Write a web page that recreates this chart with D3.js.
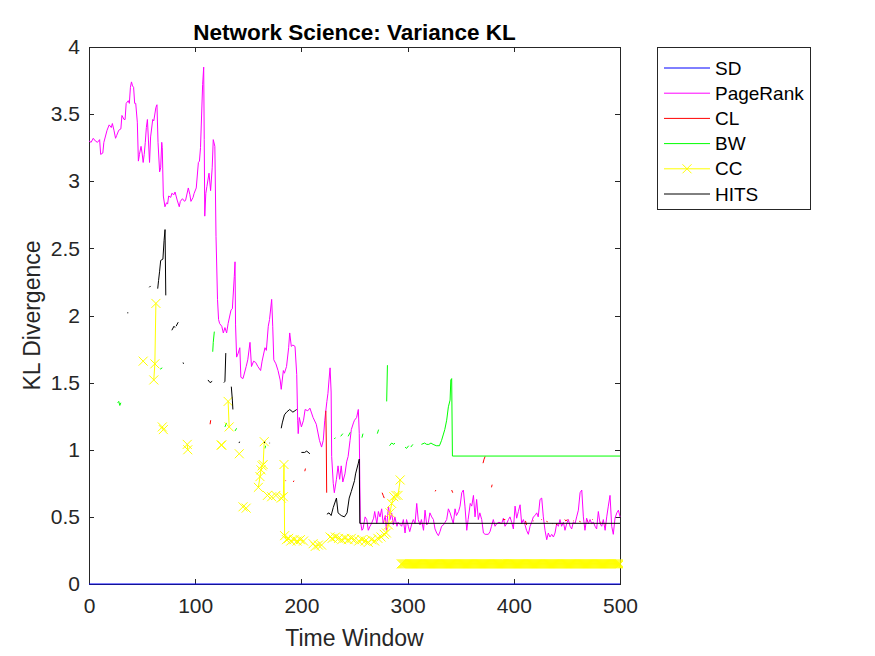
<!DOCTYPE html>
<html>
<head>
<meta charset="utf-8">
<script src="https://cdn.jsdelivr.net/npm/d3@7"></script>
<style>
  body { margin: 0; background: #fff; }
  svg { display: block; font-family: "Liberation Sans", Arial, sans-serif; }
</style>
</head>
<body>
<script>
// size of the figure and of the axes box
var w = 875, h = 656;
var plotLeft = 89, plotRight = 620, plotTop = 47, plotBottom = 584;

// ticks
var xTicks = [0, 100, 200, 300, 400, 500];
var yTicks = [0, 0.5, 1, 1.5, 2, 2.5, 3, 3.5, 4];
var yTickLabels = ["0", "0.5", "1", "1.5", "2", "2.5", "3", "3.5", "4"];

// legend
var seriesNames = ["SD", "PageRank", "CL", "BW", "CC", "HITS"];
var seriesColors = ["#0000ff", "#ff00ff", "#ff0000", "#00ff00", "#ffff00", "#000000"];

// data: [time window, KL]; null = gap (NaN in the original)
var sd = [[0, 0], [500, 0]];

var pageRank = [[0,3.30],[2,3.29],[4,3.32],[6,3.30],[8,3.29],[10,3.31],[11,3.20],[13,3.21],[14,3.29],[17,3.38],[19,3.42],[21,3.40],[22,3.43],[23.5,3.38],[25,3.32],[26,3.34],[28,3.38],[30,3.39],[31,3.49],[33,3.46],[34,3.46],[35,3.58],[37,3.60],[38,3.58],[39,3.70],[40,3.74],[41,3.71],[42,3.70],[43,3.58],[44,3.58],[45.5,3.44],[46.5,3.15],[47.5,3.20],[49,3.26],[50,3.21],[51,3.14],[52,3.20],[53,3.29],[54,3.40],[55,3.46],[56,3.30],[57,3.14],[58,3.33],[60,3.46],[61,3.45],[63,3.55],[64,3.57],[65,3.29],[66.5,3.07],[67.5,3.10],[68.5,3.29],[69,3.25],[70,2.89],[71.5,2.81],[73,2.84],[74,2.83],[75,2.89],[77,2.88],[78,2.91],[80,2.90],[81,2.92],[83,2.86],[85,2.81],[86,2.85],[88,2.87],[90,2.85],[91,2.86],[93.5,2.95],[95,2.90],[96,2.85],[98,2.88],[99,2.91],[101,2.95],[103,3.14],[104,3.15],[105,3.25],[107,3.72],[108,3.85],[108.5,3.31],[109,2.74],[110,2.91],[111,2.96],[113,3.06],[114.5,2.93],[116,3.10],[117,3.31],[118.5,3.26],[119.6,2.59],[121,2.12],[122,1.97],[123,1.94],[125,1.92],[126.5,1.87],[128,1.91],[129.6,1.87],[131,1.94],[133.7,2.04],[135,2.05],[136.8,2.29],[137.5,2.40],[138,1.93],[139,1.69],[140.5,1.72],[142,1.76],[143,1.54],[145,1.53],[148,1.62],[149.5,1.67],[151.6,1.80],[153,1.62],[155,1.66],[157,1.65],[159,1.62],[161.6,1.59],[163,1.66],[165.7,1.76],[167,1.74],[168.8,1.92],[170,1.97],[172,2.12],[173,1.92],[174,1.67],[176,1.64],[178,1.59],[180,1.52],[181,1.45],[183,1.59],[184,1.57],[186,1.62],[188,1.76],[189,1.87],[190.5,1.77],[192,1.78],[194,1.77],[195.6,1.56],[196.5,1.22],[197,1.12],[198,1.24],[200,1.17],[202,1.22],[203.5,1.30],[206,1.29],[208,1.31],[211,1.24],[214,1.19],[217,1.07],[219,1.02],[220.6,1.07],[222,1.22],[224,1.36],[225,1.42],[226,1.52],[227,1.61],[228,1.43],[228.5,0.95],[230,0.75],[231,0.68],[233,0.78],[234.5,0.88],[236,0.78],[237.5,0.88],[239,0.76],[241,0.82],[242.6,0.91],[244,0.95],[245.8,1.07],[247,1.15],[249,1.20],[250,1.22],[252,1.24],[253.6,1.30],[254.5,1.12],[255,0.78],[255.5,0.45],
  [256,0.45],[257,0.40],[258,0.41],[260,0.50],[261.5,0.48],[263,0.40],[264.6,0.43],[266,0.45],[268,0.49],[269,0.54],[271,0.45],[272.5,0.54],[274,0.50],[275.6,0.56],[277,0.45],[279,0.51],[280,0.40],[282,0.58],[283.5,0.48],[285,0.53],[286.6,0.44],[288,0.50],[290,0.43],[291,0.46],[294.4,0.43],[296,0.48],[297.6,0.38],[299,0.48],[300.7,0.43],[302,0.39],[304,0.45],[305.4,0.48],[307,0.45],[308.6,0.60],[310,0.48],[311.7,0.44],[313,0.48],[315,0.40],[316.4,0.55],[318,0.44],[319.6,0.46],[321,0.53],[322.7,0.50],[324.3,0.48],[325.8,0.41],[327.4,0.38],[329,0.36],[330.5,0.39],[332,0.43],[333.7,0.44],[335.3,0.46],[336.8,0.48],[338.4,0.56],[340,0.53],[341.5,0.49],[343,0.45],[344.7,0.56],[346,0.51],[348,0.54],[349.4,0.58],[351,0.68],[352.5,0.70],[354,0.58],[355.7,0.40],[357,0.48],[359,0.60],[360.4,0.58],[362,0.66],[363.5,0.50],[365,0.63],[366.6,0.48],[368,0.53],[369.8,0.48],[371.4,0.38],[373,0.37],[376,0.37],[377.6,0.39],[379,0.43],[380.7,0.48],[382.3,0.43],[384,0.45],[386,0.46],[388.6,0.45],[390.2,0.49],[391.7,0.43],[393.3,0.45],[395,0.48],[396.4,0.50],[398,0.46],[399.6,0.41],[401.2,0.58],[402.7,0.49],[404.3,0.54],[405.9,0.59],[407.4,0.45],[409,0.48],[410.6,0.44],[412,0.40],[413.7,0.37],[415.3,0.43],[416.8,0.46],[418.4,0.50],[420,0.51],[421.6,0.53],[423,0.50],[424.7,0.63],[426.3,0.64],[427.8,0.50],[429.4,0.40],[431,0.33],[432.5,0.38],[434,0.35],[435.7,0.37],[437.3,0.35],[438.8,0.38],[440.4,0.45],[442,0.43],[443.5,0.48],[445,0.43],[446.7,0.46],[448.2,0.40],[449.8,0.45],[451.4,0.48],[453,0.43],[454.5,0.41],[456,0.46],[457.7,0.45],[459.2,0.50],[460.8,0.55],[462.4,0.68],[464,0.70],[465.5,0.50],[467,0.40],[468.6,0.49],[470.2,0.45],[471.8,0.48],[473.3,0.45],[475,0.46],[476.5,0.43],[478,0.41],[479.6,0.54],[481.2,0.45],[482.8,0.43],[484.3,0.48],[486,0.40],[487.5,0.50],[489,0.58],[490.6,0.66],[492.2,0.43],[493.7,0.37],[495.3,0.49],[497,0.53],[498.5,0.55],[500,0.50]];

var cl = [[114,1.19],[114.6,1.22],null,[185,0.77],[185.6,0.77],null,[192.4,0.76],[193,0.77],null,[203.2,0.84],[203.8,0.86],null,
  [223,1.29],[223.4,1.08],[223.8,0.68],null,[276,0.68],[277,0.66],[278,0.64],null,[326,0.69],[326.6,0.70],null,[341.5,0.70],[342.5,0.68],null,
  [371,0.90],[372,0.93],[373,0.95],null,[379,0.72],[379.6,0.74],null,[390,0.48],[392,0.48],null,[411,0.47],[412,0.44],null,[418,0.47],[418.6,0.47],null,
  [426,0.48],[426.6,0.48],null,[431,0.47],[431.6,0.46],null,[436,0.45],[436.5,0.45],null,[440,0.44],[440.6,0.45],null,[448,0.48],[449,0.47],[450.5,0.48],null,
  [456,0.47],[456.6,0.47],null,[462,0.47],[462.6,0.46],null,[469,0.47],[469.6,0.47],null,[474,0.48],[474.6,0.48],null,[481.5,0.46],[482.2,0.46],null,[486,0.44],[486.6,0.44]];

var bw = [[27,1.35],[28,1.36],[29,1.33],[30,1.35],null,[67,1.60],[69,1.61],null,[116.5,1.73],[117,1.80],[118,1.88],null,
  [128,1.17],[129.6,1.20],null,[137.5,1.14],[139,1.16],null,[165.7,1.01],[166.3,1.03],null,[231,1.08],[232,1.09],null,
  [237,1.10],[239,1.12],null,[244,1.10],[246,1.13],null,[257,1.09],[258,1.12],null,[271.5,1.12],[272.7,1.15],null,
  [280.3,1.36],[281,1.63],null,[283,1.03],[285,1.05],[287,1.04],[288,1.05],null,[297.6,1.02],[299,1.01],[301,1.03],null,
  [303,1.02],[305,1.04],null,[313,1.04],[316,1.05],[318,1.04],[320,1.04],[322,1.05],[324,1.04],[327,1.03],[330,1.03],
  [332,1.07],[333.5,1.11],[335,1.15],[336.8,1.22],[338.4,1.32],[340,1.37],[340.7,1.52],[341.5,1.53],[342.2,0.953],[500,0.953]];

var cc = [[51,1.66],null,[61,1.52],[62,1.64],[63,2.09],null,[69,1.17],[70,1.15],null,[92.5,1.04],[93,1.00],null,
  [124.5,1.035],[125,1.035],null,[131,1.36],[132,1.17],null,[141.5,0.97],null,[145,0.575],null,[148,0.565],null,
  [159.5,0.72],[161,0.80],[162,0.85],[163,0.88],[164,0.89],[165,1.06],null,[168,0.66],null,[172,0.65],null,[176,0.66],null,
  [181,0.64],[183,0.65],[183.6,0.89],[184.2,0.36],[186,0.33],[188,0.34],[190,0.32],[193,0.33],[196,0.32],[199,0.33],[202,0.32],null,
  [211,0.30],[213,0.28],[216,0.29],[219,0.29],null,
  [227,0.35],[229,0.34],[232,0.35],[235,0.34],[238,0.33],[241,0.34],[244,0.33],[247,0.34],[250,0.33],null,
  [254,0.32],[257,0.33],[260,0.32],[263,0.31],[266,0.33],[269,0.32],[272,0.34],[275,0.35],[278,0.37],[280,0.38],[282,0.44],
  [283.5,0.53],[285,0.60],[287,0.65],[289,0.66],[291,0.66],[293,0.775]];
// from window 294 to 500 CC stays flat, one marker per window
var ccFlatRange = [294, 500];
var ccFlatValue = 0.15;

var hits = [[36,2.02],[37,2.02],null,[56.8,2.21],[58,2.22],null,[64.7,2.20],[65.5,2.26],[66.5,2.33],[67.5,2.41],[69.6,2.42],[70.7,2.56],[71.6,2.64],[72.3,2.15],null,
  [78,1.89],[80,1.92],[81,1.91],null,[82,1.92],[84,1.95],null,[88.6,1.65],[89,1.64],null,[112,1.52],[114,1.50],[116,1.51],null,
  [127,1.50],[128,1.51],[128.8,1.72],null,[134,1.47],[135,1.37],[135.5,1.30],null,[141.3,1.05],[141.8,1.06],null,
  [165,1.05],[165.6,1.06],null,[170,1.05],[170.5,1.05],null,[181,1.16],[182,1.20],[184,1.26],[186,1.28],[189,1.30],[192,1.28],[195.6,1.30],null,
  [200,0.98],[203,0.98],[205,0.99],[208,0.97],null,
  [224,0.52],[226,0.53],[228,0.51],[230,0.57],[233,0.64],[234.5,0.53],[237.5,0.51],[240.5,0.50],[243,0.53],[245,0.64],[247,0.69],
  [250,0.77],[251,0.82],[253.6,0.90],[254.5,0.93],[255,0.452],[500,0.452]];

var svg = d3.select("body").append("svg")
    .attr("width", w)
    .attr("height", h);

svg.append("rect").attr("width", w).attr("height", h).attr("fill", "#fff");

var x = d3.scaleLinear().domain([0, 500]).range([plotLeft, plotRight]);
var y = d3.scaleLinear().domain([0, 4]).range([plotBottom, plotTop]);

var axisColor = "#262626";

// axes (drawn under the data, like matlab)
var gx = svg.append("g")
    .attr("transform", "translate(0," + plotBottom + ")")
    .call(d3.axisBottom(x).tickValues(xTicks).tickSizeInner(-5).tickSizeOuter(0).tickPadding(14));
var gy = svg.append("g")
    .attr("transform", "translate(" + plotLeft + ",0)")
    .call(d3.axisLeft(y).tickValues(yTicks).tickFormat(function(d, i) { return yTickLabels[i]; })
      .tickSizeInner(-5).tickSizeOuter(0).tickPadding(9));
var gxTop = svg.append("g")
    .attr("transform", "translate(0," + plotTop + ")")
    .call(d3.axisTop(x).tickValues(xTicks).tickSizeInner(-5).tickSizeOuter(0).tickFormat(""));
var gyRight = svg.append("g")
    .attr("transform", "translate(" + plotRight + ",0)")
    .call(d3.axisRight(y).tickValues(yTicks).tickSizeInner(-5).tickSizeOuter(0).tickFormat(""));

[gx, gy, gxTop, gyRight].forEach(function(g) {
  g.attr("shape-rendering", "crispEdges");
  g.selectAll("path, line").attr("stroke", axisColor);
  g.selectAll("text")
    .attr("fill", axisColor)
    .style("font-size", "21px")
    .style("font-family", "'Liberation Sans', Arial, sans-serif");
});

// data
svg.append("clipPath").attr("id", "clip")
  .append("rect")
    .attr("x", plotLeft).attr("y", plotTop - 5)
    .attr("width", plotRight - plotLeft + 3).attr("height", plotBottom - plotTop + 10);

var plot = svg.append("g").attr("clip-path", "url(#clip)");

var line = d3.line()
    .defined(function(d) { return d !== null; })
    .x(function(d) { return x(d[0]); })
    .y(function(d) { return y(d[1]); });

var allSeries = [sd, pageRank, cl, bw, cc, hits];
allSeries.forEach(function(data, i) {
  plot.append("path")
    .datum(data)
    .attr("d", line)
    .attr("fill", "none")
    .attr("stroke", seriesColors[i])
    .attr("stroke-width", 1)
    .attr("stroke-linejoin", "round");
  if (seriesNames[i] == "CC") {
    // line across the flat part
    plot.append("path")
      .datum([[ccFlatRange[0], ccFlatValue], [ccFlatRange[1], ccFlatValue]])
      .attr("d", line)
      .attr("fill", "none")
      .attr("stroke", seriesColors[i]);
    var marks = data.filter(function(d) { return d !== null; })
      .concat(d3.range(ccFlatRange[0], ccFlatRange[1] + 1).map(function(t) { return [t, ccFlatValue]; }));
    plot.selectAll(".ccmark")
      .data(marks)
      .enter()
      .append("path")
      .attr("class", "ccmark")
      .attr("transform", function(d) { return "translate(" + x(d[0]) + "," + y(d[1]) + ")"; })
      .attr("d", "M-4.5,-4.5L4.5,4.5M-4.5,4.5L4.5,-4.5")
      .attr("fill", "none")
      .attr("stroke", seriesColors[i])
      .attr("stroke-width", 1);
  }
});

// title and labels
svg.append("text")
    .attr("x", (plotLeft + plotRight) / 2)
    .attr("y", 40)
    .attr("text-anchor", "middle")
    .style("font-size", "22.5px")
    .style("font-weight", "bold")
    .attr("fill", "#000")
    .text("Network Science: Variance KL");

svg.append("text")
    .attr("x", (plotLeft + plotRight) / 2)
    .attr("y", 646)
    .attr("text-anchor", "middle")
    .style("font-size", "23px")
    .attr("fill", axisColor)
    .text("Time Window");

svg.append("text")
    .attr("transform", "translate(40," + (plotTop + plotBottom) / 2 + ") rotate(-90)")
    .attr("text-anchor", "middle")
    .style("font-size", "23px")
    .attr("fill", axisColor)
    .text("KL Divergence");

// legend
var legend = svg.append("g");
legend.append("rect")
    .attr("x", 657.5).attr("y", 47.5)
    .attr("width", 153).attr("height", 162)
    .attr("fill", "#fff")
    .attr("stroke", axisColor)
    .attr("stroke-width", 1);

var rows = legend.selectAll(".row")
    .data(seriesNames)
    .enter()
    .append("g")
    .attr("class", "row")
    .attr("transform", function(d, i) { return "translate(0," + (68 + i * 25.2) + ")"; });

rows.append("line")
    .attr("x1", 664).attr("x2", 710)
    .attr("y1", 0).attr("y2", 0)
    .attr("stroke", function(d, i) { return seriesColors[i]; })
    .attr("stroke-width", 1);

rows.filter(function(d) { return d == "CC"; })
  .append("path")
    .attr("transform", "translate(687,0)")
    .attr("d", "M-4.5,-4.5L4.5,4.5M-4.5,4.5L4.5,-4.5")
    .attr("stroke", seriesColors[4])
    .attr("fill", "none");

rows.append("text")
    .attr("x", 715)
    .attr("y", 0)
    .attr("dy", "0.35em")
    .style("font-size", "19px")
    .attr("fill", "#000")
    .text(function(d) { return d; });
</script>
</body>
</html>
